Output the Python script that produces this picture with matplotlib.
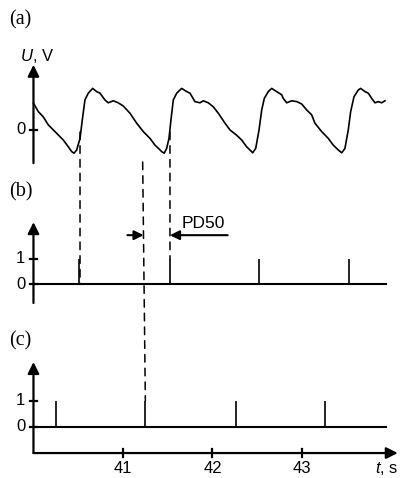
import matplotlib
matplotlib.use("Agg")
import matplotlib.pyplot as plt
from matplotlib.patches import ConnectionPatch

plt.rcParams['font.family'] = ['Liberation Sans', 'DejaVu Sans']
plt.rcParams['mathtext.fontset'] = 'custom'
plt.rcParams['mathtext.it'] = 'Liberation Sans:italic'
plt.rcParams['mathtext.rm'] = 'Liberation Sans'

# (a) signal trace, time in s and voltage (arb. V)
t_sig = [40.000, 40.054, 40.109, 40.165, 40.240, 40.333, 40.389, 40.427, 40.453, 40.483,
         40.520, 40.550, 40.575, 40.612, 40.661, 40.706, 40.743, 40.799, 40.836, 40.892,
         40.947, 41.003, 41.078, 41.153, 41.227, 41.302, 41.358, 41.406, 41.432, 41.461,
         41.488, 41.514, 41.536, 41.562, 41.600, 41.656, 41.712, 41.749, 41.804, 41.860,
         41.897, 41.953, 42.009, 42.065, 42.140, 42.196, 42.270, 42.326, 42.382, 42.419,
         42.449, 42.483, 42.520, 42.550, 42.579, 42.623, 42.661, 42.717, 42.773, 42.791,
         42.829, 42.885, 42.941, 42.997, 43.053, 43.108, 43.145, 43.220, 43.294, 43.350,
         43.406, 43.444, 43.480, 43.517, 43.544, 43.581, 43.629, 43.656, 43.704, 43.741,
         43.779, 43.816, 43.852, 43.890, 43.927]
u_sig = [0.67, 0.46, 0.33, 0.13, -0.04, -0.25, -0.42, -0.54, -0.58, -0.50,
         -0.21, 0.33, 0.75, 0.92, 1.04, 0.96, 0.92, 0.75, 0.68, 0.73,
         0.68, 0.60, 0.42, 0.17, -0.04, -0.21, -0.38, -0.48, -0.54, -0.58,
         -0.46, -0.21, 0.25, 0.75, 0.92, 1.04, 0.96, 0.92, 0.71, 0.68,
         0.73, 0.68, 0.58, 0.42, 0.17, 0.00, -0.13, -0.25, -0.42, -0.50,
         -0.57, -0.46, 0.00, 0.50, 0.79, 0.96, 1.04, 0.96, 0.88, 0.79,
         0.68, 0.73, 0.71, 0.65, 0.50, 0.38, 0.17, -0.04, -0.21, -0.38,
         -0.50, -0.57, -0.46, 0.00, 0.46, 0.83, 1.00, 1.04, 0.96, 0.92,
         0.79, 0.68, 0.71, 0.68, 0.73]

# (b) and (c) pulse times
pulses_b = [40.51, 41.52, 42.52, 43.52]
pulses_c = [40.25, 41.25, 42.26, 43.26]

xticks = [41, 42, 43]
t_start, t_end = 40.0, 43.94

W, H = 405, 478
fig = plt.figure(figsize=(W / 100, H / 100), dpi=100)


def make_ax(top_px, bot_px, ylim):
    ax = fig.add_axes([0, 1 - bot_px / H, 1, (bot_px - top_px) / H])
    ax.set_xlim(39.626, 44.151)
    ax.set_ylim(*ylim)
    ax.axis('off')
    return ax


ax_a = make_ax(40, 175, (-1.125, 2.25))
ax_b = make_ax(175, 315, (-1.20, 4.29))
ax_c = make_ax(315, 478, (-1.97, 4.30))

arrow = dict(arrowstyle='-|>', lw=1.6, color='k', mutation_scale=17,
             shrinkA=0, shrinkB=0)
tick_w = 0.04
fs = 12

# panel a
ax_a.plot(t_sig, u_sig, color='k', lw=1.2)
ax_a.annotate('', xy=(t_start, 1.63), xytext=(t_start, -0.83), arrowprops=arrow)
ax_a.plot([t_start - tick_w, t_start + tick_w], [0, 0], color='k', lw=1.6)
ax_a.text(t_start - 0.09, 0, '0', ha='right', va='center', fontsize=fs)
ax_a.text(t_start - 0.15, 1.85, '$U$, V', ha='left', va='center', fontsize=fs)

# panels b and c
for ax, pulses, bottom, top in [(ax_b, pulses_b, -0.73, 2.44), (ax_c, pulses_c, -1.01, 2.49)]:
    ax.plot([t_start, t_end], [0, 0], color='k', lw=1.5)
    ax.vlines(pulses, 0, 1, color='k', lw=1.2)
    ax.annotate('', xy=(t_start, top), xytext=(t_start, bottom), arrowprops=arrow)
    for v in [0, 1]:
        ax.plot([t_start - tick_w, t_start + tick_w], [v, v], color='k', lw=1.6)
        ax.text(t_start - 0.09, v, str(v), ha='right', va='center', fontsize=fs)

# time axis
ax_c.annotate('', xy=(44.07, -1.01), xytext=(t_start, -1.01), arrowprops=arrow)
for xt in xticks:
    ax_c.plot([xt, xt], [-1.16, -0.86], color='k', lw=1.6)
    ax_c.text(xt, -1.6, str(xt), ha='center', va='center', fontsize=fs)
ax_c.text(43.95, -1.6, '$t$, s', ha='center', va='center', fontsize=fs)

# PD50 marker
pa = dict(arrowstyle='-|>', lw=1.5, color='k', mutation_scale=14, shrinkA=0, shrinkB=0)
ax_b.annotate('', xy=(41.23, 1.93), xytext=(41.05, 1.93), arrowprops=pa)
ax_b.annotate('', xy=(41.525, 1.93), xytext=(42.17, 1.93), arrowprops=pa)
ax_b.text(41.66, 2.4, 'PD50', ha='left', va='center', fontsize=12.5)

# dashed connectors
dash = dict(color='k', lw=1.1, linestyle=(0, (5, 4)))
links = [
    (ax_a, (40.52, -0.05), ax_b, (40.52, 0)),
    (ax_a, (41.525, -0.05), ax_b, (41.525, 1)),
    (ax_a, (41.22, -0.8), ax_c, (41.25, 1)),
]
for axA, xyA, axB, xyB in links:
    con = ConnectionPatch(xyA=xyA, coordsA='data', axesA=axA,
                          xyB=xyB, coordsB='data', axesB=axB, **dash)
    fig.add_artist(con)

# panel letters
for label, y_px in [('(a)', 20), ('(b)', 192), ('(c)', 341)]:
    fig.text(9 / W, 1 - y_px / H, label, ha='left', va='center',
             fontsize=14.5, family='Liberation Serif')

fig.savefig('out.png', dpi=100)
